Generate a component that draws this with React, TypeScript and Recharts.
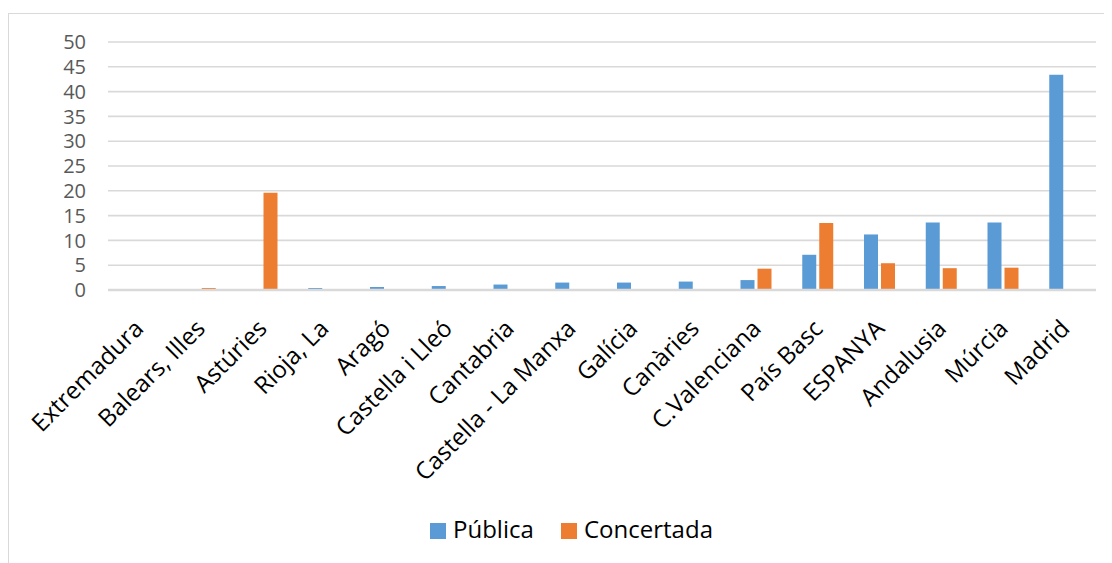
import React from 'react';
import { BarChart, Bar, XAxis, YAxis, CartesianGrid } from 'recharts';

const categories = [
  'Extremadura',
  'Balears, Illes',
  'Astúries',
  'Rioja, La',
  'Aragó',
  'Castella i Lleó',
  'Cantabria',
  'Castella - La Manxa',
  'Galícia',
  'Canàries',
  'C.Valenciana',
  'País Basc',
  'ESPANYA',
  'Andalusia',
  'Múrcia',
  'Madrid',
];

const publica = [0, 0.2, 0.2, 0.4, 0.6, 0.8, 1.1, 1.5, 1.5, 1.7, 2.0, 7.1, 11.2, 13.6, 13.6, 43.4];
const concertada = [0, 0.4, 19.6, 0, 0, 0, 0, 0, 0, 0, 4.3, 13.5, 5.4, 4.4, 4.5, 0];

const yTicks = [0, 5, 10, 15, 20, 25, 30, 35, 40, 45, 50];

const seriesNames = ['Pública', 'Concertada'];
const BLUE = '#5B9BD5';
const ORANGE = '#ED7D31';
const GRID = '#D9D9D9';
const FONT = '"Open Sans", "Noto Sans", sans-serif';

const data = categories.map((name, i) => ({
  name,
  publica: publica[i],
  concertada: concertada[i],
}));

const CategoryTick = (props: any) => {
  const { x, y, payload } = props;
  return (
    <g transform={`translate(${x + 6},${y + 40})`}>
      <text
        x={0}
        y={0}
        textAnchor="end"
        transform="rotate(-45)"
        fill="#000000"
        fontSize={24}
        fontFamily={FONT}
      >
        {payload.value}
      </text>
    </g>
  );
};

export default function App() {
  return (
    <div
      style={{
        position: 'relative',
        width: 1104,
        height: 555,
        overflow: 'hidden',
        fontFamily: FONT,
        background: '#ffffff',
      }}
    >
      <div
        style={{
          position: 'absolute',
          left: 0,
          top: 5,
          width: 1110,
          height: 600,
          borderLeft: `1.5px solid ${GRID}`,
          borderTop: `1.5px solid ${GRID}`,
          boxSizing: 'border-box',
        }}
      />
      <div style={{ position: 'absolute', left: 0, top: 0 }}>
        <BarChart
          width={1104}
          height={555}
          data={data}
          margin={{ top: 34, right: 16, left: 0, bottom: 153 }}
          barSize={14}
          barGap={3}
        >
          <CartesianGrid
            vertical={false}
            horizontal={true}
            stroke={GRID}
            strokeWidth={1.6}
          />
          <XAxis
            dataKey="name"
            interval={0}
            height={120}
            tickLine={false}
            tickSize={0}
            tickMargin={0}
            axisLine={{ stroke: GRID, strokeWidth: 2.5 }}
            tick={<CategoryTick />}
          />
          <YAxis
            width={100}
            domain={[0, 50]}
            ticks={yTicks}
            interval={0}
            axisLine={false}
            tickLine={false}
            tickSize={0}
            tickMargin={22}
            tick={{ fill: '#595959', fontSize: 20, fontFamily: FONT }}
          />
          <Bar dataKey="publica" name={seriesNames[0]} fill={BLUE} isAnimationActive={false} />
          <Bar dataKey="concertada" name={seriesNames[1]} fill={ORANGE} isAnimationActive={false} />
        </BarChart>
      </div>
      {[
        { label: seriesNames[0], color: BLUE, left: 422 },
        { label: seriesNames[1], color: ORANGE, left: 553 },
      ].map((item) => (
        <div key={item.label}>
          <div
            style={{
              position: 'absolute',
              left: item.left,
              top: 515,
              width: 16,
              height: 16,
              background: item.color,
            }}
          />
          <div
            style={{
              position: 'absolute',
              left: item.left + 23,
              top: 509,
              fontSize: 24,
              lineHeight: '24px',
              color: '#000000',
              whiteSpace: 'nowrap',
            }}
          >
            {item.label}
          </div>
        </div>
      ))}
    </div>
  );
}
